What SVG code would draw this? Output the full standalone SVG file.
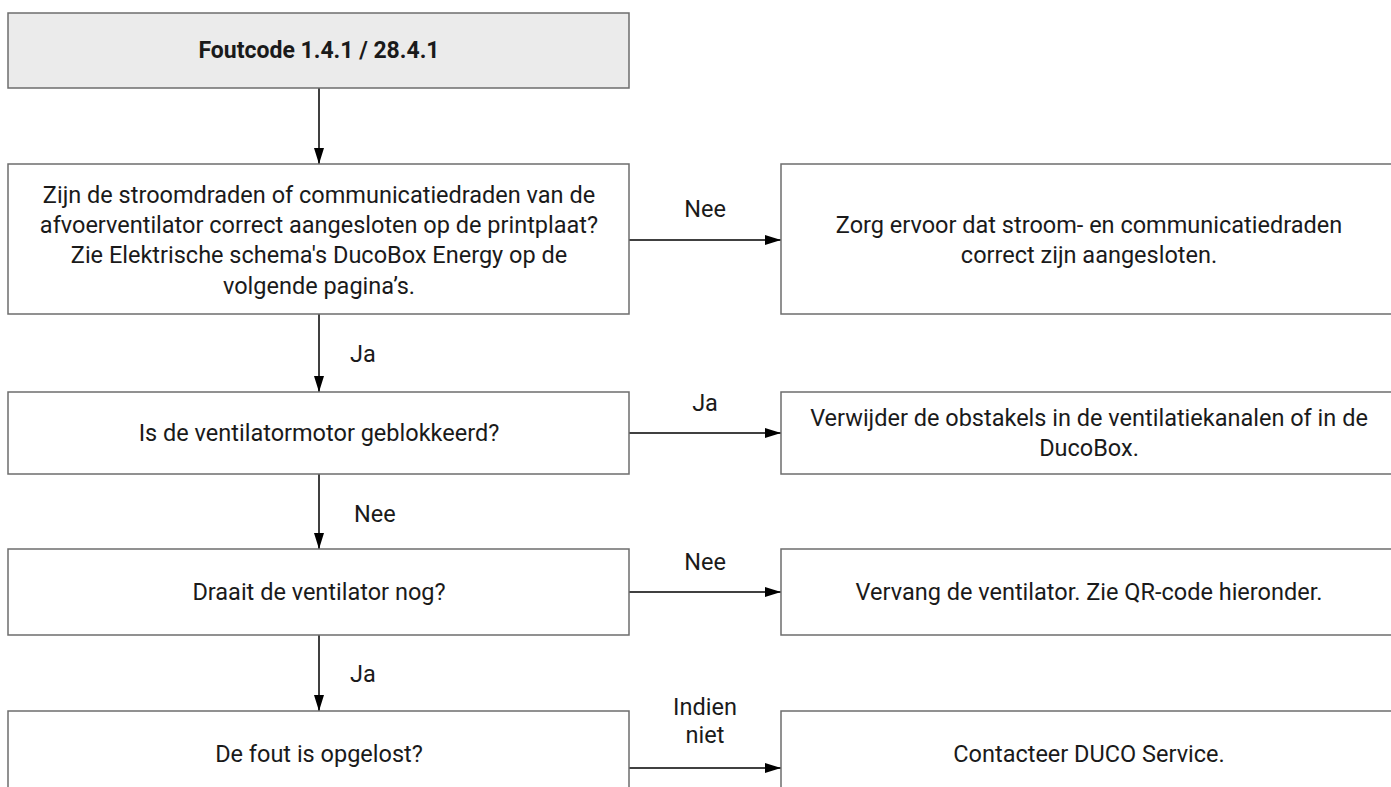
<svg xmlns="http://www.w3.org/2000/svg" width="1391" height="787" viewBox="0 0 1391 787">
<defs>
<marker id="arr" markerWidth="16" markerHeight="10" refX="16" refY="5" orient="auto" markerUnits="userSpaceOnUse">
<path d="M0,0 L16,5 L0,10 z" fill="#000"/>
</marker>
<style>
.box{fill:#fff;stroke:#6d6d6d;stroke-width:1.5}
.head{fill:#ebebeb;stroke:#6d6d6d;stroke-width:1.5}
text{font-family:Roboto,"Liberation Sans",sans-serif;font-size:23.5px;fill:#1a1a1a}
.c{text-anchor:middle}
.b{font-weight:bold;font-size:23px}
.con{stroke:#000;stroke-width:1.5;fill:none}
</style>
</defs>
<rect width="1391" height="787" fill="#fff"/>
<g id="connectors">
<line class="con" x1="319" y1="88" x2="319" y2="164" marker-end="url(#arr)"/>
<line class="con" x1="629" y1="240" x2="781" y2="240" marker-end="url(#arr)"/>
<text class="c" x="705" y="217">Nee</text>
<line class="con" x1="319" y1="314" x2="319" y2="392" marker-end="url(#arr)"/>
<text x="350" y="362">Ja</text>
<line class="con" x1="629" y1="433" x2="781" y2="433" marker-end="url(#arr)"/>
<text class="c" x="705" y="411">Ja</text>
<line class="con" x1="319" y1="474" x2="319" y2="549" marker-end="url(#arr)"/>
<text x="354" y="522">Nee</text>
<line class="con" x1="629" y1="592" x2="781" y2="592" marker-end="url(#arr)"/>
<text class="c" x="705" y="570">Nee</text>
<line class="con" x1="319" y1="635" x2="319" y2="711" marker-end="url(#arr)"/>
<text x="350" y="682">Ja</text>
<line class="con" x1="629" y1="768" x2="781" y2="768" marker-end="url(#arr)"/>
<text class="c" x="705" y="715">Indien</text>
<text class="c" x="705" y="743">niet</text>
</g>
<g id="n-title">
<rect class="head" x="8" y="13" width="621" height="75"/>
<text class="c b" x="319" y="58">Foutcode 1.4.1 / 28.4.1</text>
</g>
<g id="n-q1">
<rect class="box" x="8" y="164" width="621" height="150"/>
<text class="c" x="319" y="203">Zijn de stroomdraden of communicatiedraden van de</text>
<text class="c" x="319" y="233">afvoerventilator correct aangesloten op de printplaat?</text>
<text class="c" x="319" y="263">Zie Elektrische schema's DucoBox Energy op de</text>
<text class="c" x="319" y="294">volgende pagina’s.</text>
</g>
<g id="n-a1">
<rect class="box" x="781" y="164" width="620" height="150"/>
<text class="c" x="1089" y="233">Zorg ervoor dat stroom- en communicatiedraden</text>
<text class="c" x="1089" y="263">correct zijn aangesloten.</text>
</g>
<g id="n-q2">
<rect class="box" x="8" y="392" width="621" height="82"/>
<text class="c" x="319" y="441">Is de ventilatormotor geblokkeerd?</text>
</g>
<g id="n-a2">
<rect class="box" x="781" y="392" width="620" height="82"/>
<text class="c" x="1089" y="426">Verwijder de obstakels in de ventilatiekanalen of in de</text>
<text class="c" x="1089" y="456">DucoBox.</text>
</g>
<g id="n-q3">
<rect class="box" x="8" y="549" width="621" height="86"/>
<text class="c" x="319" y="600">Draait de ventilator nog?</text>
</g>
<g id="n-a3">
<rect class="box" x="781" y="549" width="620" height="86"/>
<text class="c" x="1089" y="600">Vervang de ventilator. Zie QR-code hieronder.</text>
</g>
<g id="n-q4">
<rect class="box" x="8" y="711" width="621" height="120"/>
<text class="c" x="319" y="762">De fout is opgelost?</text>
</g>
<g id="n-a4">
<rect class="box" x="781" y="711" width="620" height="120"/>
<text class="c" x="1089" y="762">Contacteer DUCO Service.</text>
</g>
</svg>
